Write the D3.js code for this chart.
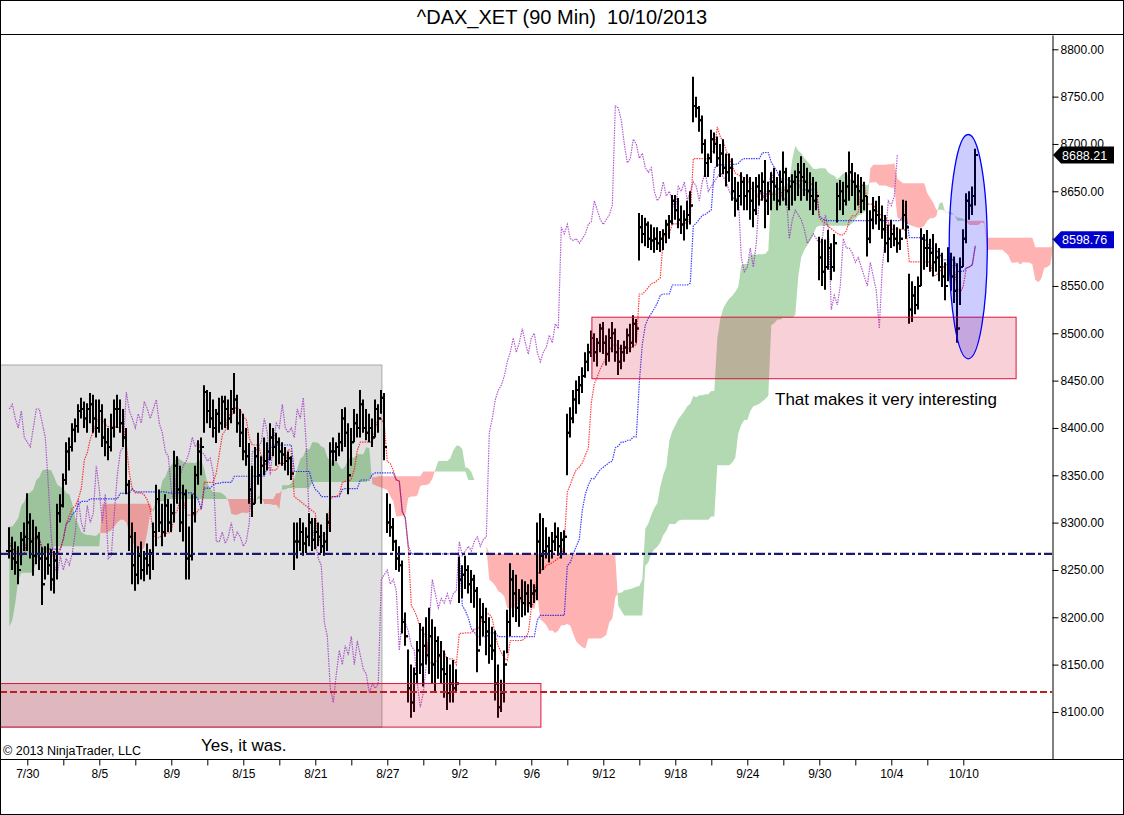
<!DOCTYPE html>
<meta charset="utf-8">
<title>^DAX_XET (90 Min)</title>
<style>
body { margin: 0; background: #fff; }
svg { display: block; font-family: Arial, "Liberation Sans", sans-serif; }
.axis text { font-size: 12px; fill: #000; }
.axis line, .axis path { stroke: #000; }
</style>
<body>
<div id="chart"></div>
<script src="https://d3js.org/d3.v7.min.js"></script>
<script>

// trading days on the chart (6 bars of 90 min per day, last day has 5)

var dates = ["7/29","7/30","7/31","8/1","8/2","8/5","8/6","8/7","8/8","8/9",
  "8/12","8/13","8/14","8/15","8/16","8/19","8/20","8/21","8/22","8/23",
  "8/26","8/27","8/28","8/29","8/30","9/2","9/3","9/4","9/5","9/6",
  "9/9","9/10","9/11","9/12","9/13","9/16","9/17","9/18","9/19","9/20",
  "9/23","9/24","9/25","9/26","9/27","9/30","10/1","10/2","10/3","10/4",
  "10/7","10/8","10/9","10/10"];

var high = [
  8295,8285,8280,8275,8290,8300,  8331,8310,8303,8296,8290,8274,
  8275,8278,8272,8270,8320,8330,  8352,8385,8390,8405,8410,8425,
  8432,8428,8426,8437,8435,8430,  8430,8425,8410,8400,8415,8430,
  8435,8430,8420,8400,8345,8300,  8290,8275,8280,8270,8278,8272,
  8300,8340,8335,8320,8330,8325,  8320,8376,8370,8360,8340,8335,
  8296,8330,8360,8387,8390,8445,  8440,8438,8430,8420,8432,8434,
  8434,8430,8440,8458,8435,8420,  8415,8400,8384,8360,8380,8395,
  8370,8390,8385,8405,8400,8395,  8390,8385,8380,8375,8370,8300,
  8300,8305,8300,8295,8310,8305,  8305,8300,8298,8290,8310,8385,
  8390,8385,8395,8420,8422,8405,  8400,8420,8415,8440,8430,8420,
  8415,8410,8430,8425,8440,8437,  8331,8320,8305,8282,8275,8260,
  8205,8166,8150,8147,8175,8194,  8190,8200,8210,8198,8190,8180,
  8175,8165,8158,8150,8155,8145,  8264,8255,8265,8255,8250,8245,
  8232,8220,8215,8210,8200,8190,  8186,8150,8134,8165,8208,8257,
  8250,8245,8230,8240,8238,8235,  8240,8235,8300,8310,8305,8295,
  8285,8290,8300,8295,8290,8292,  8415,8422,8440,8450,8455,8464,
  8480,8489,8503,8500,8495,8510,  8512,8498,8505,8512,8505,8493,
  8488,8492,8505,8510,8519,8515,  8627,8625,8622,8618,8615,8612,
  8612,8608,8610,8620,8625,8646,  8646,8643,8635,8630,8640,8650,
  8771,8750,8740,8730,8705,8690,  8715,8712,8708,8700,8705,8690,
  8690,8685,8665,8660,8670,8665,  8668,8665,8660,8665,8668,8670,
  8683,8660,8670,8675,8665,8672,  8692,8675,8665,8668,8672,8680,
  8687,8680,8675,8670,8665,8660,  8602,8600,8599,8609,8595,8605,
  8659,8662,8660,8670,8692,8680,  8670,8668,8665,8660,8645,8630,
  8644,8640,8645,8635,8625,8615,  8620,8615,8612,8610,8641,8640,
  8563,8555,8550,8560,8611,8605,  8609,8600,8605,8595,8590,8585,
  8575,8591,8585,8581,8574,8580,  8610,8648,8650,8655,8695
];

var low = [
  8262,8250,8245,8235,8255,8270,  8270,8262,8244,8256,8250,8213,
  8240,8245,8228,8225,8240,8300,  8316,8340,8355,8375,8385,8395,
  8410,8400,8395,8405,8395,8390,  8395,8380,8370,8366,8375,8390,
  8400,8395,8380,8330,8270,8235,  8228,8235,8240,8238,8245,8240,
  8250,8275,8290,8275,8285,8290,  8290,8300,8320,8290,8280,8240,
  8240,8260,8300,8340,8350,8395,  8405,8400,8390,8384,8395,8398,
  8400,8398,8405,8415,8395,8380,  8366,8360,8320,8306,8320,8340,
  8320,8350,8355,8366,8370,8360,  8362,8360,8355,8350,8345,8250,
  8262,8270,8265,8268,8275,8270,  8272,8275,8268,8265,8270,8290,
  8360,8365,8370,8375,8380,8330,  8360,8385,8390,8390,8395,8387,
  8385,8380,8390,8395,8415,8366,  8289,8285,8270,8250,8248,8183,
  8170,8110,8094,8100,8130,8140,  8127,8150,8140,8130,8120,8135,
  8130,8115,8102,8110,8110,8120,  8215,8220,8230,8225,8215,8210,
  8142,8170,8180,8160,8151,8155,  8112,8094,8100,8110,8162,8180,
  8200,8195,8190,8200,8202,8205,  8210,8215,8218,8246,8250,8262,
  8258,8262,8270,8265,8262,8268,  8350,8390,8405,8415,8425,8437,
  8453,8460,8475,8470,8465,8480,  8478,8466,8470,8480,8470,8456,
  8462,8470,8478,8480,8485,8490,  8577,8595,8592,8590,8588,8585,
  8588,8586,8588,8595,8600,8615,  8620,8611,8605,8598,8610,8615,
  8723,8728,8713,8690,8665,8665,  8680,8690,8676,8665,8668,8655,
  8660,8640,8623,8630,8635,8630,  8630,8620,8612,8625,8635,8640,
  8611,8625,8630,8640,8630,8635,  8640,8635,8630,8635,8640,8645,
  8640,8645,8640,8630,8625,8630,  8556,8550,8546,8567,8556,8565,
  8617,8630,8625,8635,8640,8645,  8630,8635,8627,8630,8581,8595,
  8610,8615,8609,8600,8585,8575,  8590,8592,8585,8588,8610,8600,
  8510,8512,8520,8525,8550,8567,  8570,8565,8560,8565,8555,8549,
  8535,8555,8545,8532,8490,8530,  8570,8595,8620,8625,8635
];

var close = [
  8270,8262,8258,8250,8282,8285,  8300,8280,8265,8285,8262,8235,
  8262,8255,8240,8260,8310,8318,  8345,8375,8380,8398,8402,8418,
  8420,8410,8420,8425,8410,8400,  8418,8390,8385,8380,8400,8420,
  8420,8405,8390,8340,8285,8255,  8245,8265,8250,8262,8255,8268,
  8290,8325,8300,8290,8318,8300,  8310,8360,8335,8300,8330,8262,
  8265,8310,8350,8375,8380,8438,  8418,8410,8400,8415,8405,8428,
  8420,8410,8420,8430,8405,8395,  8375,8370,8335,8320,8370,8350,
  8360,8365,8375,8390,8380,8385,  8375,8372,8365,8368,8352,8280,
  8280,8290,8278,8285,8300,8282,  8290,8285,8275,8280,8300,8375,
  8375,8380,8385,8410,8395,8350,  8385,8405,8400,8425,8400,8395,
  8400,8390,8420,8410,8432,8380,  8300,8295,8280,8262,8255,8195,
  8180,8125,8110,8140,8165,8150,  8170,8160,8180,8150,8175,8160,
  8145,8140,8120,8130,8125,8130,  8240,8245,8250,8235,8240,8228,
  8165,8200,8195,8185,8170,8165,  8130,8105,8120,8150,8195,8240,
  8225,8210,8220,8215,8225,8215,  8225,8228,8280,8265,8270,8275,
  8270,8280,8285,8275,8282,8285,  8395,8410,8430,8440,8445,8455,
  8470,8480,8495,8480,8490,8505,  8490,8478,8495,8500,8480,8470,
  8480,8485,8498,8490,8510,8505,  8612,8605,8615,8600,8598,8600,
  8595,8600,8605,8615,8618,8640,  8630,8620,8615,8620,8625,8635,
  8740,8738,8725,8700,8680,8685,  8705,8700,8685,8690,8675,8670,
  8675,8650,8640,8645,8660,8645,  8650,8640,8630,8655,8650,8660,
  8640,8650,8660,8655,8640,8660,  8670,8650,8655,8660,8665,8670,
  8665,8660,8650,8645,8640,8645,  8580,8565,8570,8590,8570,8595,
  8645,8650,8640,8655,8670,8660,  8655,8650,8640,8645,8600,8620,
  8630,8625,8620,8610,8595,8600,  8605,8600,8595,8600,8625,8612,
  8525,8540,8530,8550,8600,8590,  8590,8585,8575,8580,8570,8560,
  8550,8575,8560,8545,8505,8570,  8600,8640,8635,8645,8688.21
];

// leading spans at the left edge (built from bars before the chart starts)
var leadAHead = [8296,8296,8300,8305,8318,8322,8330,8332,8335,8345,
  8348,8355,8356,8356,8355,8348,8340,8338,8336,8331,
  8330,8320,8305,8298,8290,8288,8287,8287,8286,8286,
  8289,8289,8289,8290,8292,8296,8300,8303,8303,8300,
  8290,8280,8274,8272,8271,8274,8290,8310];
var leadBHead = [8190,8197,8215,8240,8247,8247,8247,8247,8247,8260,
  8268,8268,8268,8268,8268,8275,8275,8275,8275,8275,
  8275,8275,8275,8275,8275,8275,8275,8275,8275,8275,
  8275,8320,8320,8320,8320,8320,8320,8320,8320,8320,
  8320,8320,8320,8320,8320,8320,8320,8320];

var yTicks = [8100,8150,8200,8250,8300,8350,8400,8450,8500,8550,8600,8650,8700,8750,8800];

var dashDotLevel = 8267, dashLevel = 8121;
var lastPrice = 8688.21, bluePrice = 8598.76;

// ---------------------------------------------------------------

var W = 1124, H = 815;
var plot = {left: 0, right: 1052, top: 35, bottom: 759};
var n = close.length, perDay = 6, shift = 26;

var svg = d3.select("#chart").append("svg")
  .attr("width", W)
  .attr("height", H);

var x = d3.scaleLinear()
  .domain([0, n - 1])
  .range([9.3, 9.3 + 3 * (n - 1)]);

var y = d3.scaleLinear()
  .domain([8050.3, 8815.1])
  .range([plot.bottom, plot.top]);

svg.append("clipPath").attr("id", "clip")
  .append("rect")
  .attr("x", plot.left).attr("y", plot.top)
  .attr("width", plot.right - plot.left)
  .attr("height", plot.bottom - plot.top);

var g = svg.append("g").attr("clip-path", "url(#clip)");

// ichimoku from the bars

function mid(end, len) {
  var s = Math.max(0, end - len + 1);
  return (d3.max(high.slice(s, end + 1)) + d3.min(low.slice(s, end + 1))) / 2;
}

var tenkan = d3.range(n).map(function(i) { return mid(i, 9); });
var kijun = d3.range(n).map(function(i) { return mid(i, 26); });
var spanA = [], spanB = [];
for (var j = 0; j < n + shift; j++) {
  if (j < leadAHead.length) {
    spanA.push(leadAHead[j]);
    spanB.push(leadBHead[j]);
  } else {
    var s = j - shift;
    spanA.push((tenkan[s] + kijun[s]) / 2);
    spanB.push(mid(s, 52));
  }
}
var chikou = close.slice(shift);

// gray box behind everything

g.append("rect")
  .attr("x", x(-3.1)).attr("y", y(8466.5))
  .attr("width", x(124.2) - x(-3.1))
  .attr("height", y(8084) - y(8466.5))
  .attr("fill", "#e0e0e0")
  .attr("stroke", "#a8a8a8");

// cloud, split where the spans cross

var upPath = "", downPath = "";
function poly(pts) {
  return "M" + pts.map(function(p) { return x(p[0]) + "," + y(p[1]); }).join("L") + "Z";
}
for (var i = 0; i < spanA.length - 1; i++) {
  var a0 = spanA[i], a1 = spanA[i + 1], b0 = spanB[i], b1 = spanB[i + 1];
  var d0 = a0 - b0, d1 = a1 - b1;
  if (d0 * d1 < 0) {
    var t = d0 / (d0 - d1), xm = i + t, ym = a0 + (a1 - a0) * t;
    var p1 = poly([[i, a0], [xm, ym], [i, b0]]);
    var p2 = poly([[xm, ym], [i + 1, a1], [i + 1, b1]]);
    if (d0 > 0) { upPath += p1; downPath += p2; } else { downPath += p1; upPath += p2; }
  } else {
    var p = poly([[i, a0], [i + 1, a1], [i + 1, b1], [i, b0]]);
    if (d0 + d1 >= 0) upPath += p; else downPath += p;
  }
}
g.append("path").attr("d", upPath).attr("fill", "rgb(0,128,0)").attr("fill-opacity", 0.3);
g.append("path").attr("d", downPath).attr("fill", "rgb(255,0,0)").attr("fill-opacity", 0.3);

// indicator lines

function dotted(data, color, opacity) {
  g.append("path")
    .datum(data)
    .attr("fill", "none")
    .attr("stroke", color)
    .attr("stroke-opacity", opacity)
    .attr("stroke-width", 1.2)
    .attr("stroke-dasharray", "1.5,1")
    .attr("d", d3.line()
      .x(function(d, i) { return x(i); })
      .y(function(d) { return y(d); }));
}

dotted(chikou, "#9a28c0", 0.75);
dotted(kijun, "#0000ff", 0.75);
dotted(tenkan, "#ff0000", 0.75);

// ohlc bars, open taken at the previous close

var bars = g.append("g")
  .attr("stroke", "#000")
  .attr("stroke-width", 2)
  .attr("fill", "none");

bars.selectAll("path")
  .data(close)
  .enter()
  .append("path")
  .attr("d", function(c, i) {
    var px = Math.round(x(i));
    var o = i > 0 ? close[i - 1] : c;
    return "M" + px + "," + y(high[i]) + "V" + y(low[i]) +
      "M" + (px - 3) + "," + y(o) + "H" + px +
      "M" + px + "," + y(c) + "H" + (px + 3);
  });

// horizontal levels

g.append("line")
  .attr("x1", plot.left).attr("x2", plot.right)
  .attr("y1", y(dashDotLevel)).attr("y2", y(dashDotLevel))
  .attr("stroke", "#191970")
  .attr("stroke-width", 2.2)
  .attr("stroke-dasharray", "9,3,3,3");

g.append("line")
  .attr("x1", plot.left).attr("x2", plot.right)
  .attr("y1", y(dashLevel)).attr("y2", y(dashLevel))
  .attr("stroke", "#b22222")
  .attr("stroke-width", 2)
  .attr("stroke-dasharray", "7,3");

// drawn zones

var zones = [
  {b0: -3.1, b1: 177.2, top: 8130, bottom: 8084},
  {b0: 194.2, b1: 335.6, top: 8517, bottom: 8452}
];

g.selectAll("rect.zone")
  .data(zones)
  .enter()
  .append("rect")
  .attr("class", "zone")
  .attr("x", function(d) { return x(d.b0); })
  .attr("y", function(d) { return y(d.top); })
  .attr("width", function(d) { return x(d.b1) - x(d.b0); })
  .attr("height", function(d) { return y(d.bottom) - y(d.top); })
  .attr("fill", "rgb(220,20,60)")
  .attr("fill-opacity", 0.2)
  .attr("stroke", "#dc143c");

g.append("ellipse")
  .attr("cx", (x(313.3) + x(326)) / 2)
  .attr("cy", (y(8710) + y(8473)) / 2)
  .attr("rx", (x(326) - x(313.3)) / 2)
  .attr("ry", (y(8473) - y(8710)) / 2)
  .attr("fill", "rgb(0,0,255)")
  .attr("fill-opacity", 0.2)
  .attr("stroke", "#0000ff")
  .attr("stroke-width", 1.3);

// notes

svg.append("text")
  .attr("x", 775).attr("y", 405)
  .style("font-size", "17px")
  .text("That makes it very interesting");

svg.append("text")
  .attr("x", 201).attr("y", 751)
  .style("font-size", "17px")
  .text("Yes, it was.");

svg.append("text")
  .attr("x", 3).attr("y", 755)
  .style("font-size", "12.5px")
  .text("\u00a9 2013 NinjaTrader, LLC");

// axes (labels hidden by a price marker are left out)

var hiddenTicks = [8600];

var yaxis = d3.axisRight(y)
  .tickValues(yTicks)
  .tickFormat(function(v) { return hiddenTicks.indexOf(v) < 0 ? d3.format(".2f")(v) : ""; })
  .tickSize(6)
  .tickPadding(2)
  .tickSizeOuter(0);

svg.append("g")
  .attr("class", "axis")
  .attr("transform", "translate(" + (plot.right + 0.5) + ",0)")
  .call(yaxis);

var tickBars = d3.range(1, dates.length, 2).map(function(d) { return d * perDay; });

var xaxis = d3.axisBottom(x)
  .tickValues(tickBars)
  .tickFormat(function(b) {
    var d = b / perDay;
    return (d - 1) % 4 === 0 ? dates[d] : "";
  })
  .tickSize(6)
  .tickPadding(4)
  .tickSizeOuter(0);

var xg = svg.append("g")
  .attr("class", "axis")
  .attr("transform", "translate(0," + (plot.bottom + 0.5) + ")")
  .call(xaxis);
xg.select(".domain").remove();

// frame

var frame = svg.append("g").attr("stroke", "#000").attr("fill", "none");
frame.append("line").attr("x1", 0).attr("x2", W).attr("y1", 34.5).attr("y2", 34.5);
frame.append("line").attr("x1", 0).attr("x2", W).attr("y1", plot.bottom + 0.5).attr("y2", plot.bottom + 0.5);
frame.append("rect").attr("x", 0.5).attr("y", 0.5).attr("width", W - 1).attr("height", H - 1);

// price markers on the axis

function marker(v, color) {
  var cy = y(v);
  svg.append("path")
    .attr("d", "M" + (plot.right + 1) + "," + cy +
      "L" + (plot.right + 9) + "," + (cy - 8.5) +
      "H" + (plot.right + 62) + "V" + (cy + 8.5) +
      "H" + (plot.right + 9) + "Z")
    .attr("fill", color);
  svg.append("text")
    .attr("x", plot.right + 10).attr("y", cy + 4.5)
    .attr("fill", "#fff")
    .style("font-size", "12.5px")
    .text(d3.format(".2f")(v));
}
marker(lastPrice, "#000");
marker(bluePrice, "#0000cc");

// title

svg.append("text")
  .attr("x", W / 2).attr("y", 24)
  .attr("text-anchor", "middle")
  .style("font-size", "20px")
  .style("white-space", "pre")
  .text("^DAX_XET (90 Min)  10/10/2013");

</script>
</body>
